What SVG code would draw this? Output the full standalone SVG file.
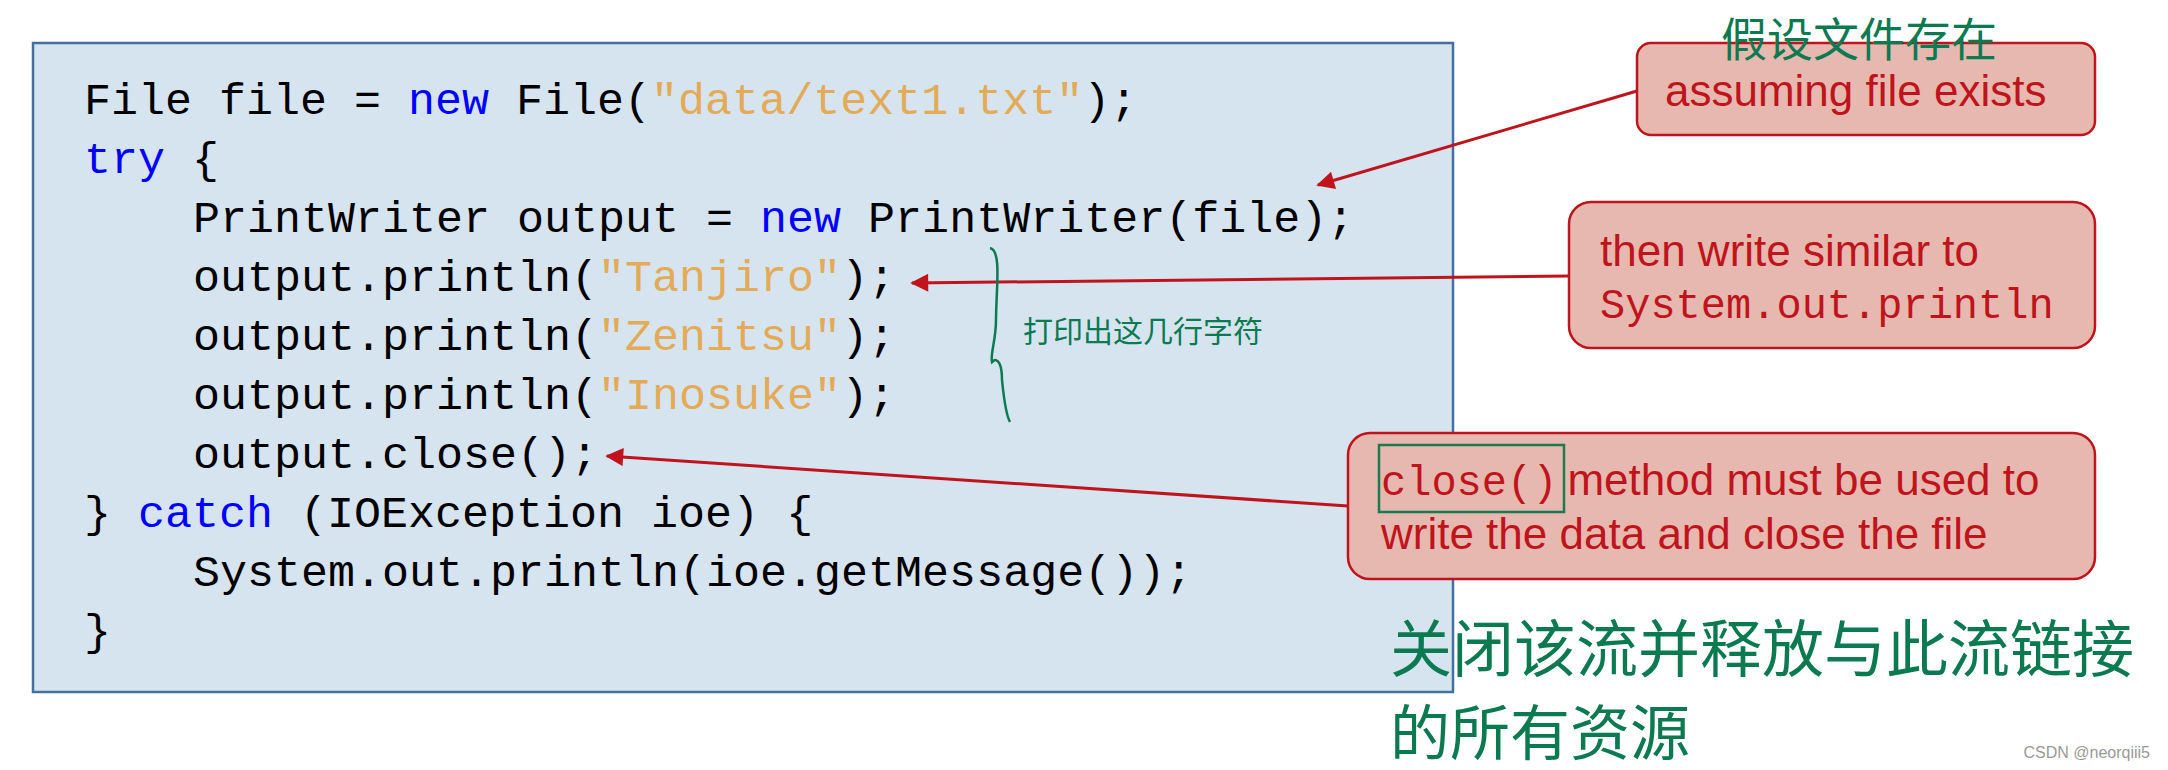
<svg xmlns="http://www.w3.org/2000/svg" width="2168" height="770" viewBox="0 0 2168 770">
<defs>
<marker id="ah" viewBox="0 0 10 10" refX="9" refY="5" markerWidth="20" markerHeight="18" markerUnits="userSpaceOnUse" orient="auto-start-reverse">
<path d="M0,0 L10,5 L0,10 z" fill="#c0141c"/>
</marker>
<style>
.code{font-family:"Liberation Mono","DejaVu Sans Mono",monospace;font-size:45px;fill:#000}
.kw{fill:#0000ff}
.str{fill:#e3ab57}
.box{fill:#e6b8af;stroke:#c0141c;stroke-width:2.5}
.lbl{font-family:"Liberation Sans",Arial,sans-serif;font-size:44px;fill:#c0141c}
.mono{font-family:"Liberation Mono",monospace;font-size:42px;fill:#c0141c}
.hand{font-family:"Noto Sans CJK SC",sans-serif;fill:#0b7a50}
.conn{stroke:#c0141c;stroke-width:3;fill:none;marker-end:url(#ah)}
</style>
</defs>
<rect width="2168" height="770" fill="#fff"/>
<g id="code">
<rect x="33" y="43" width="1420" height="649" fill="#d6e4f0" stroke="#41719c" stroke-width="2.5"/>
<text class="code" x="84" y="114">File file = <tspan class="kw">new</tspan> File(<tspan class="str">"data/text1.txt"</tspan>);</text>
<text class="code" x="84" y="173"><tspan class="kw">try</tspan> {</text>
<text class="code" x="193" y="232">PrintWriter output = <tspan class="kw">new</tspan> PrintWriter(file);</text>
<text class="code" x="193" y="291">output.println(<tspan class="str">"Tanjiro"</tspan>);</text>
<text class="code" x="193" y="350">output.println(<tspan class="str">"Zenitsu"</tspan>);</text>
<text class="code" x="193" y="409">output.println(<tspan class="str">"Inosuke"</tspan>);</text>
<text class="code" x="193" y="468">output.close();</text>
<text class="code" x="84" y="527">} <tspan class="kw">catch</tspan> (IOException ioe) {</text>
<text class="code" x="193" y="586">System.out.println(ioe.getMessage());</text>
<text class="code" x="84" y="645">}</text>
</g>
<g id="note1">
<rect class="box" x="1637" y="43" width="458" height="92" rx="14"/>
<text class="lbl" x="1665" y="106" font-size="46">assuming file exists</text>
</g>
<g id="note2">
<rect class="box" x="1569" y="202" width="526" height="146" rx="22"/>
<text class="lbl" x="1600" y="266">then write similar to</text>
<text class="mono" x="1600" y="318">System.out.println</text>
</g>
<g id="note3">
<rect class="box" x="1348" y="433" width="747" height="146" rx="22"/>
<rect x="1379" y="445" width="185" height="67" fill="none" stroke="#1a7a50" stroke-width="2.5"/>
<text x="1381" y="495"><tspan class="mono">close()</tspan><tspan class="lbl" dx="10">method must be used to</tspan></text>
<text class="lbl" x="1381" y="549">write the data and close the file</text>
</g>
<g id="connectors">
<line class="conn" x1="1637" y1="91" x2="1318" y2="185"/>
<line class="conn" x1="1569" y1="276" x2="912" y2="283"/>
<line class="conn" x1="1348" y1="506" x2="607" y2="456"/>
</g>
<g id="handwriting">
<path d="M990,248 C1002,250 996,290 996,320 C996,340 990,355 992,362 C998,356 1002,365 1002,380 C1004,400 1006,415 1010,422" fill="none" stroke="#0b7a50" stroke-width="2.5"/>
<text class="hand" x="1721" y="56" font-size="46">假设文件存在</text>
<text class="hand" x="1023" y="342" font-size="30">打印出这几行字符</text>
<text class="hand" x="1390" y="672" font-size="62">关闭该流并释放与此流链接</text>
<text class="hand" x="1390" y="755" font-size="60">的所有资源</text>
</g>
<text x="2150" y="758" text-anchor="end" font-family="Liberation Sans,sans-serif" font-size="16" fill="#999">CSDN @neorqiii5</text>
</svg>
